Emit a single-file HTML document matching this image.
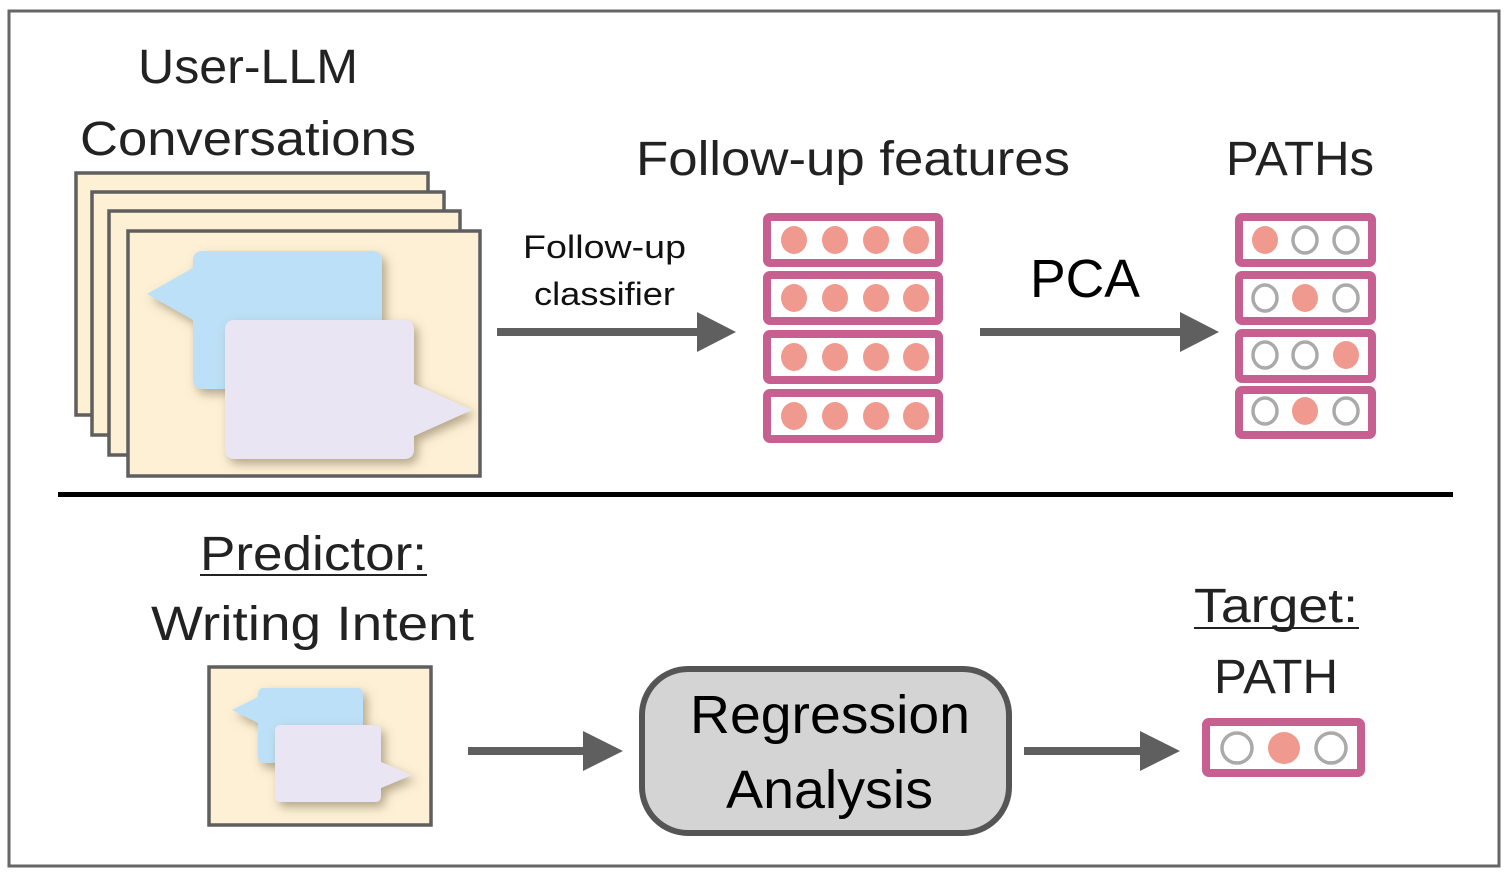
<!DOCTYPE html>
<html><head><meta charset="utf-8"><style>
html,body{margin:0;padding:0;background:#fff;}
svg{display:block;}
text{font-family:"Liberation Sans",sans-serif;fill:#222;}
</style></head><body>
<svg width="1510" height="876" viewBox="0 0 1510 876" xmlns="http://www.w3.org/2000/svg">
<defs>
<filter id="sh" x="-20%" y="-20%" width="150%" height="150%"><feDropShadow dx="4" dy="5" stdDeviation="5" flood-color="#7a6a50" flood-opacity="0.55"/></filter>
</defs>
<rect x="9" y="11" width="1490" height="855" fill="#fff" stroke="#666" stroke-width="3"/>

<!-- titles -->
<text x="138" y="83" font-size="48" textLength="220" lengthAdjust="spacingAndGlyphs">User-LLM</text>
<text x="80" y="155" font-size="48" textLength="336" lengthAdjust="spacingAndGlyphs">Conversations</text>
<text x="636" y="175" font-size="48" textLength="434" lengthAdjust="spacingAndGlyphs">Follow-up features</text>
<text x="1226" y="175" font-size="48" textLength="148" lengthAdjust="spacingAndGlyphs">PATHs</text>

<!-- pages -->
<g fill="#fdf0d5" stroke="#5f5f5f" stroke-width="3.5">
<rect x="76" y="173" width="352" height="242"/>
<rect x="92" y="192" width="352" height="243"/>
<rect x="109" y="211" width="351" height="244"/>
<rect x="128" y="231" width="352" height="245"/>
</g>
<g filter="url(#sh)">
<path d="M203 251 H372 Q382 251 382 261 V379 Q382 389 372 389 H203 Q193 389 193 379 V320 L147 294 L193 268 V261 Q193 251 203 251 Z" fill="#bce0f7"/>
</g>
<g filter="url(#sh)">
<path d="M235 320 H404 Q414 320 414 330 V384 L472 410 L414 436 V449 Q414 459 404 459 H235 Q225 459 225 449 V330 Q225 320 235 320 Z" fill="#e9e5f3"/>
</g>

<!-- arrow 1 -->
<text x="523" y="258" font-size="32" textLength="163" lengthAdjust="spacingAndGlyphs" style="fill:#111">Follow-up</text>
<text x="534" y="305" font-size="32" textLength="141" lengthAdjust="spacingAndGlyphs" style="fill:#111">classifier</text>
<rect x="497" y="328" width="204" height="8" fill="#5f5f5f"/>
<polygon points="697,312 736,332 697,352" fill="#5f5f5f"/>

<!-- feature rows -->
<g fill="#fff" stroke="#c75f91" stroke-width="8">
<rect x="767" y="217" width="172" height="46" rx="3"/>
<rect x="767" y="275" width="172" height="46" rx="3"/>
<rect x="767" y="334" width="172" height="46" rx="3"/>
<rect x="767" y="393" width="172" height="46" rx="3"/>
</g>
<g fill="#f09a8f">
<ellipse cx="794" cy="240" rx="13" ry="14"/><ellipse cx="835" cy="240" rx="13" ry="14"/><ellipse cx="876" cy="240" rx="13" ry="14"/><ellipse cx="916" cy="240" rx="13" ry="14"/>
<ellipse cx="794" cy="298" rx="13" ry="14"/><ellipse cx="835" cy="298" rx="13" ry="14"/><ellipse cx="876" cy="298" rx="13" ry="14"/><ellipse cx="916" cy="298" rx="13" ry="14"/>
<ellipse cx="794" cy="357" rx="13" ry="14"/><ellipse cx="835" cy="357" rx="13" ry="14"/><ellipse cx="876" cy="357" rx="13" ry="14"/><ellipse cx="916" cy="357" rx="13" ry="14"/>
<ellipse cx="794" cy="416" rx="13" ry="14"/><ellipse cx="835" cy="416" rx="13" ry="14"/><ellipse cx="876" cy="416" rx="13" ry="14"/><ellipse cx="916" cy="416" rx="13" ry="14"/>
</g>

<!-- PCA arrow -->
<text x="1030" y="297" font-size="54" textLength="110" lengthAdjust="spacingAndGlyphs" style="fill:#000">PCA</text>
<rect x="980" y="328" width="204" height="8" fill="#5f5f5f"/>
<polygon points="1180,312 1219,332 1180,352" fill="#5f5f5f"/>

<!-- PATH rows -->
<g fill="#fff" stroke="#c75f91" stroke-width="8">
<rect x="1239" y="217" width="133" height="46" rx="3"/>
<rect x="1239" y="275" width="133" height="46" rx="3"/>
<rect x="1239" y="333" width="133" height="46" rx="3"/>
<rect x="1239" y="390" width="133" height="45" rx="3"/>
</g>
<g fill="#f09a8f">
<ellipse cx="1265" cy="240" rx="13" ry="14"/>
<ellipse cx="1305" cy="298" rx="13" ry="14"/>
<ellipse cx="1346" cy="355" rx="13" ry="14"/>
<ellipse cx="1305" cy="411" rx="13" ry="14"/>
</g>
<g fill="none" stroke="#aaa" stroke-width="3.5">
<ellipse cx="1305" cy="240" rx="12" ry="13"/><ellipse cx="1346" cy="240" rx="12" ry="13"/>
<ellipse cx="1265" cy="298" rx="12" ry="13"/><ellipse cx="1346" cy="298" rx="12" ry="13"/>
<ellipse cx="1265" cy="355" rx="12" ry="13"/><ellipse cx="1305" cy="355" rx="12" ry="13"/>
<ellipse cx="1265" cy="411" rx="12" ry="13"/><ellipse cx="1346" cy="411" rx="12" ry="13"/>
</g>

<!-- divider -->
<rect x="58" y="492" width="1395" height="5" fill="#000"/>

<!-- bottom -->
<text x="200" y="570" font-size="48" textLength="227" lengthAdjust="spacingAndGlyphs">Predictor:</text>
<rect x="200" y="574" width="227" height="2" fill="#222"/>
<text x="151" y="640" font-size="48" textLength="323" lengthAdjust="spacingAndGlyphs">Writing Intent</text>
<rect x="209" y="667" width="222" height="158" fill="#fdf0d5" stroke="#5f5f5f" stroke-width="3.5"/>
<g filter="url(#sh)">
<path d="M264 688 H357 Q363 688 363 694 V757 Q363 763 357 763 H264 Q258 763 258 757 V723 L232 710 L258 697 V694 Q258 688 264 688 Z" fill="#bce0f7"/>
</g>
<g filter="url(#sh)">
<path d="M281 725 H375 Q381 725 381 731 V762 L412 775 L381 788 V796 Q381 802 375 802 H281 Q275 802 275 796 V731 Q275 725 281 725 Z" fill="#e9e5f3"/>
</g>
<rect x="468" y="747" width="118" height="8" fill="#5f5f5f"/>
<polygon points="583,731 623,751 583,771" fill="#5f5f5f"/>

<rect x="642" y="669" width="367" height="164" rx="46" fill="#d4d4d4" stroke="#555" stroke-width="6"/>
<text x="690" y="733" font-size="54" textLength="280" lengthAdjust="spacingAndGlyphs" style="fill:#000">Regression</text>
<text x="726" y="808" font-size="54" textLength="207" lengthAdjust="spacingAndGlyphs" style="fill:#000">Analysis</text>

<rect x="1024" y="747" width="118" height="8" fill="#5f5f5f"/>
<polygon points="1140,731 1180,751 1140,771" fill="#5f5f5f"/>

<text x="1194" y="622" font-size="48" textLength="164" lengthAdjust="spacingAndGlyphs">Target:</text>
<rect x="1194" y="627" width="165" height="2" fill="#222"/>
<text x="1214" y="693" font-size="48" textLength="124" lengthAdjust="spacingAndGlyphs">PATH</text>
<rect x="1206" y="722" width="155" height="51" rx="3" fill="#fff" stroke="#c75f91" stroke-width="8"/>
<ellipse cx="1284" cy="748" rx="16" ry="16" fill="#f09a8f"/>
<g fill="none" stroke="#aaa" stroke-width="3.5">
<ellipse cx="1237" cy="748" rx="15" ry="15"/><ellipse cx="1331" cy="748" rx="15" ry="15"/>
</g>
</svg>
</body></html>
